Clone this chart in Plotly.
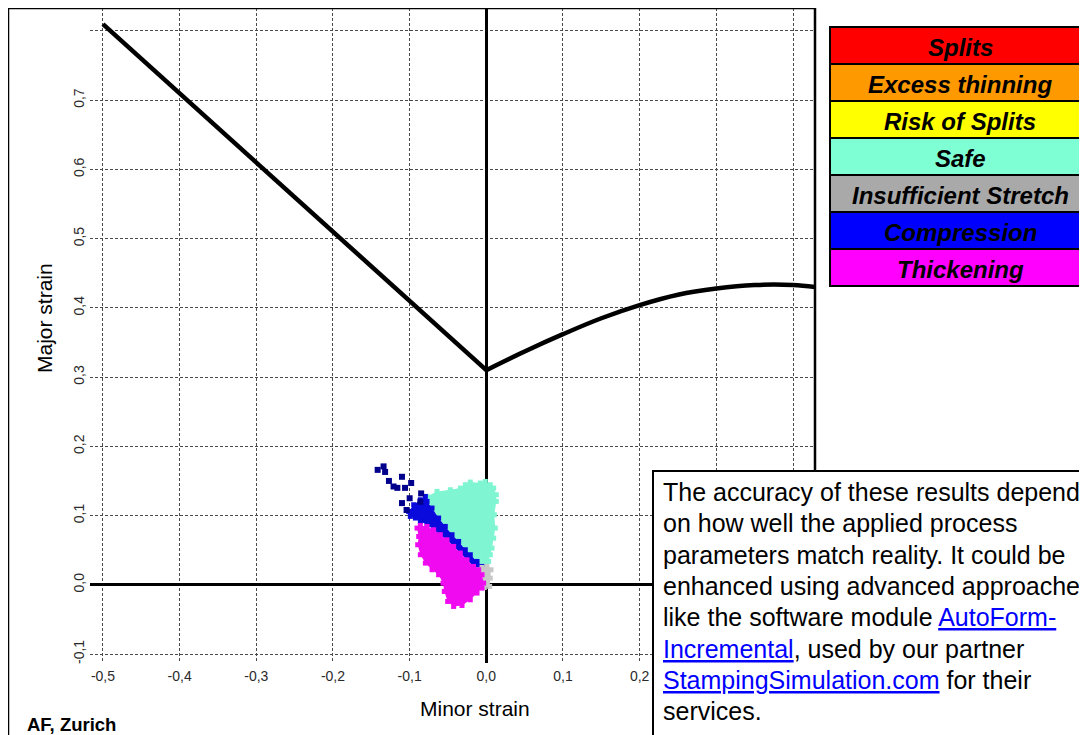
import plotly.graph_objects as go

# page body adds an 8px margin: figure is shifted, so size and offsets compensate
OFF = 8
W, H = 1087 - OFF, 735 - OFF

# ---------------- data ----------------
x_tick_vals = [-0.5, -0.4, -0.3, -0.2, -0.1, 0.0, 0.1, 0.2, 0.3, 0.4]
x_tick_text = ["-0,5", "-0,4", "-0,3", "-0,2", "-0,1", "0,0", "0,1", "0,2", "", ""]  # 0,3 / 0,4 hidden under note box
y_tick_vals = [-0.1, 0.0, 0.1, 0.2, 0.3, 0.4, 0.5, 0.6, 0.7, 0.8]
y_tick_text = ["-0,1", "0,0", "0,1", "0,2", "0,3", "0,4", "0,5", "0,6", "0,7", ""]

# forming limit curve: left (straight) and right (curved) branches
flc_left_x = [-0.5, 0.0]
flc_left_y = [0.81, 0.31]
flc_right_x = [0.0, 0.05, 0.1, 0.15, 0.2, 0.25, 0.3, 0.35, 0.4, 0.43]
flc_right_y = [0.31, 0.337, 0.362, 0.385, 0.404, 0.419, 0.428, 0.433, 0.433, 0.430]

# point cloud outlines (minor, major)
safe_x = [-0.0773, -0.0643, -0.0469, -0.0339, -0.0274, -0.0209, -0.0078, -0.0013, 0.0052, 0.0096,
          0.0130, 0.0130, 0.0104, 0.0117, 0.0096, 0.0074, 0.0052, 0.0030, 0.0000, -0.0056,
          -0.0121, -0.0209, -0.0274, -0.0361, -0.0447, -0.0535, -0.0622, -0.0708, -0.0773]
safe_y = [0.1276, 0.1349, 0.1373, 0.1397, 0.1445, 0.1484, 0.1470, 0.1493, 0.1445, 0.1397,
          0.1301, 0.1204, 0.1012, 0.0819, 0.0674, 0.0530, 0.0434, 0.0337, 0.0241, 0.0265,
          0.0337, 0.0434, 0.0506, 0.0626, 0.0723, 0.0843, 0.0964, 0.1108, 0.1204]

comp_x = [-0.1013, -0.0947, -0.0860, -0.0795, -0.0773, -0.0708, -0.0622, -0.0535, -0.0447, -0.0361,
          -0.0274, -0.0209, -0.0121, -0.0056, -0.0100, -0.0166, -0.0252, -0.0339, -0.0426, -0.0513,
          -0.0600, -0.0687, -0.0773, -0.0860, -0.0925, -0.0991]
comp_y = [0.1059, 0.1156, 0.1228, 0.1276, 0.1204, 0.1108, 0.0964, 0.0843, 0.0723, 0.0626,
          0.0506, 0.0434, 0.0337, 0.0265, 0.0217, 0.0265, 0.0361, 0.0458, 0.0554, 0.0650,
          0.0723, 0.0795, 0.0867, 0.0915, 0.0964, 0.0988]

thick_x = [-0.0904, -0.0882, -0.0895, -0.0860, -0.0795, -0.0708, -0.0622, -0.0565, -0.0548, -0.0504,
           -0.0426, -0.0317, -0.0209, -0.0121, -0.0056, -0.0035, -0.0056, -0.0100, -0.0166, -0.0252,
           -0.0339, -0.0426, -0.0513, -0.0600, -0.0687, -0.0773, -0.0860]
thick_y = [0.0819, 0.0698, 0.0578, 0.0434, 0.0313, 0.0217, 0.0145, 0.0024, -0.0096, -0.0241,
           -0.0313, -0.0299, -0.0217, -0.0120, -0.0048, 0.0024, 0.0145, 0.0217, 0.0265, 0.0361,
           0.0458, 0.0554, 0.0650, 0.0723, 0.0795, 0.0843, 0.0857]

insuf_x = [-0.0056, 0.0009, 0.0061, 0.0052, 0.0043, -0.0026, -0.0035, -0.0056, -0.0100]
insuf_y = [0.0251, 0.0265, 0.0217, 0.0096, -0.0024, -0.0039, 0.0024, 0.0145, 0.0217]

# compression outliers
outl_x = [-0.1417, -0.134, -0.132, -0.127, -0.121, -0.116, -0.110, -0.106, -0.098, -0.110,
          -0.100, -0.104, -0.085, -0.086]
outl_y = [0.166, 0.171, 0.163, 0.150, 0.142, 0.140, 0.156, 0.140, 0.147, 0.118,
          0.125, 0.108, 0.132, 0.120]

legend_labels = ["Splits", "Excess thinning", "Risk of Splits", "Safe",
                 "Insufficient Stretch", "Compression", "Thickening"]
legend_colors = ["#FF0000", "#FF9900", "#FFFF00", "#7FFFD4", "#A9A9A9", "#0000FF", "#FF00FF"]

LINK = "<span style='color:#0000FF;text-decoration:underline'>%s</span>"
note_lines = [
    "The accuracy of these results depends",
    "on how well the applied process",
    "parameters match reality. It could be",
    "enhanced using advanced approaches",
    "like the software module " + LINK % "AutoForm-",
    LINK % "Incremental" + ", used by our partner",
    LINK % "StampingSimulation.com" + " for their",
    "services.",
]

# ---------------- layout helpers (window pixel -> paper) ----------------
def pxx(x):
    return (x - OFF) / W

def pxy(y):
    return 1 - (y - OFF) / H

plot_l, plot_r, plot_t, plot_b = 90, 815, 8, 663

fig = go.Figure()

def cloud(xs, ys, color):
    fig.add_trace(go.Scatter(
        x=xs, y=ys, mode="markers", fill="toself", fillcolor=color,
        marker=dict(symbol="square", size=5, color=color, line=dict(width=0)),
        line=dict(width=0, color=color), hoverinfo="skip", showlegend=False))

cloud(safe_x, safe_y, "#7FF5D2")
cloud(comp_x, comp_y, "#0A0ADC")
cloud(insuf_x, insuf_y, "#C8C8C8")
cloud(thick_x, thick_y, "#F00AF0")

fig.add_trace(go.Scatter(
    x=outl_x, y=outl_y, mode="markers",
    marker=dict(symbol="square", size=6, color="#00008C", line=dict(width=0)),
    hoverinfo="skip", showlegend=False))

fig.add_trace(go.Scatter(
    x=flc_left_x, y=flc_left_y, mode="lines", line=dict(color="black", width=4.5),
    hoverinfo="skip", showlegend=False))
fig.add_trace(go.Scatter(
    x=flc_right_x, y=flc_right_y, mode="lines", line=dict(color="black", width=4.5, shape="spline"),
    hoverinfo="skip", showlegend=False))

axis_common = dict(showgrid=True, gridcolor="#4a4a4a", gridwidth=1, griddash="3px,2px",
                   zeroline=True, zerolinecolor="black", zerolinewidth=2.5,
                   showline=False, ticks="",
                   tickfont=dict(family="Liberation Sans", size=14, color="#2a2a2a"))

fig.update_layout(
    width=W, height=H,
    margin=dict(l=0, r=0, t=0, b=0, autoexpand=False),
    paper_bgcolor="white", plot_bgcolor="white",
    xaxis=dict(domain=[pxx(plot_l), pxx(plot_r)], range=[-0.5169, 0.4287],
               tickvals=x_tick_vals, ticktext=x_tick_text, ticklabelstandoff=3, **axis_common),
    yaxis=dict(domain=[pxy(plot_b), pxy(plot_t)], range=[-0.1130, 0.8332],
               tickvals=y_tick_vals, ticktext=y_tick_text, tickangle=-90, ticklabelstandoff=2,
               **axis_common),
)

shapes = []
# outer frame
shapes.append(dict(type="rect", xref="paper", yref="paper", x0=pxx(8), x1=pxx(815), y0=pxy(760), y1=pxy(8),
                   line=dict(color="black", width=2.5), fillcolor="rgba(0,0,0,0)", layer="above"))
# note box
shapes.append(dict(type="rect", xref="paper", yref="paper", x0=pxx(653), x1=pxx(1100), y0=pxy(760), y1=pxy(471),
                   line=dict(color="black", width=2), fillcolor="white", layer="above"))
# legend rows
row_top, row_h = 27, 37
for i, c in enumerate(legend_colors):
    shapes.append(dict(type="rect", xref="paper", yref="paper", x0=pxx(830), x1=pxx(1100),
                       y0=pxy(row_top + (i + 1) * row_h), y1=pxy(row_top + i * row_h),
                       line=dict(color="black", width=2), fillcolor=c, layer="above"))
fig.update_layout(shapes=shapes)

ann = []
for i, lab in enumerate(legend_labels):
    ann.append(dict(xref="paper", yref="paper", x=pxx(960), y=pxy(row_top + i * row_h + row_h / 2 + 2),
                    text="<b><i>" + lab + "</i></b>", showarrow=False, xanchor="center", yanchor="middle",
                    font=dict(family="Liberation Sans", size=24, color="black")))
for i, ln in enumerate(note_lines):
    ann.append(dict(xref="paper", yref="paper", x=pxx(661), y=pxy(492 + i * 31.3),
                    text=ln, showarrow=False, xanchor="left", yanchor="middle",
                    font=dict(family="Liberation Sans", size=25, color="black")))
ann.append(dict(xref="paper", yref="paper", x=pxx(45), y=pxy(318), text="Major strain", textangle=-90,
                showarrow=False, xanchor="center", yanchor="middle",
                font=dict(family="Liberation Sans", size=21, color="black")))
ann.append(dict(xref="paper", yref="paper", x=pxx(475), y=pxy(708), text="Minor strain",
                showarrow=False, xanchor="center", yanchor="middle",
                font=dict(family="Liberation Sans", size=21, color="black")))
ann.append(dict(xref="paper", yref="paper", x=pxx(25), y=pxy(724), text="<b>AF, Zurich</b>",
                showarrow=False, xanchor="left", yanchor="middle",
                font=dict(family="Liberation Sans", size=18.5, color="black")))
fig.update_layout(annotations=ann)

fig.write_html("out.html")
